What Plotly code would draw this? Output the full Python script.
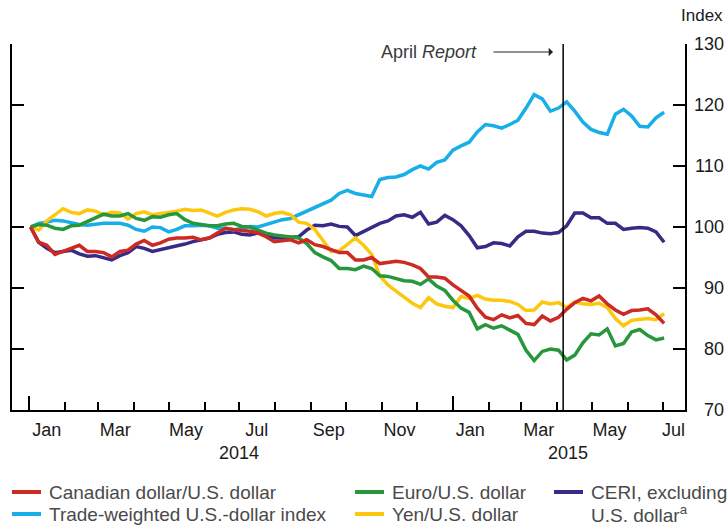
import pandas as pd
import plotly.graph_objects as go

# ---------------- data (weekly readings, index: Jan 2, 2014 = 100) ----------------
dates = pd.date_range("2014-01-02", periods=79, freq="7D").strftime("%Y-%m-%d").tolist()

cad_usd = [100, 97.5, 97, 95.5, 96, 96.5, 97, 96, 96, 95.8,
           95.1, 96, 96.2, 97.2, 97.8, 97, 97.4, 98, 98.2, 98.2,
           98.3, 97.9, 98.2, 99, 99.8, 99.6, 99.5, 99.3, 99, 98.4,
           97.6, 97.8, 97.9, 97.4, 97.9, 97.1, 96.8, 96.3, 95.8, 95.8,
           94.6, 94.6, 95, 94, 94.2, 94.4, 94.2, 93.8, 93.2, 91.8,
           91.8, 91.6, 90.5, 89.6, 88.7, 86.7, 85.2, 84.8, 85.6, 85.1,
           85.5, 84.2, 84, 85.4, 84.6, 85.2, 86.5, 87.6, 88.3, 87.9,
           88.7, 87.4, 86.4, 85.7, 86.3, 86.4, 86.6, 85.6, 84.2]

ceri_ex_usd = [100, 97.5, 96.5, 95.8, 96, 96.2, 95.6, 95.2, 95.3, 95,
               94.6, 95.3, 95.8, 96.8, 96.5, 96, 96.3, 96.6, 96.8, 97.2,
               97.6, 97.9, 98.2, 98.8, 99.1, 99.2, 98.8, 98.7, 99, 98.8,
               98.2, 98.2, 98.3, 98.4, 99.5, 100.3, 100.2, 100.5, 100.1, 100,
               98.6, 99.3, 99.9, 100.6, 101, 101.8, 102, 101.6, 102.4, 100.5,
               100.8, 101.9, 101.2, 100.2, 98.6, 96.6, 96.8, 97.4, 97.3, 96.9,
               98.4, 99.3, 99.3, 99, 98.9, 99.1, 100.2, 102.3, 102.3, 101.5,
               101.5, 100.6, 100.6, 99.6, 99.8, 99.9, 99.8, 99.2, 97.5]

tw_usd = [100, 100.6, 100.8, 101.1, 101, 100.7, 100.4, 100.3, 100.5, 100.6,
          100.6, 100.6, 100.3, 99.6, 99.3, 100, 99.9, 99.2, 99.6, 100.2,
          100.2, 100.3, 100.2, 99.8, 99.8, 99.5, 99.8, 100.1, 100, 100.4,
          100.9, 101.2, 101.4, 102, 102.6, 103.2, 103.8, 104.4, 105.5, 106,
          105.5, 105.2, 105, 107.8, 108.1, 108.2, 108.6, 109.4, 110, 109.5,
          110.6, 111, 112.6, 113.3, 113.9, 115.6, 116.8, 116.6, 116.2, 116.8,
          117.5, 119.5, 121.7, 121, 119, 119.5, 120.5, 119, 117.2, 116,
          115.5, 115.2, 118.5, 119.3, 118.2, 116.5, 116.4, 117.9, 118.8]

eur_usd = [100, 100.4, 100.3, 99.8, 99.6, 100.2, 100.3, 100.9, 101.4, 102.1,
           101.8, 101.8, 102.2, 101.4, 101.1, 101.7, 101.6, 102, 102.2, 101.2,
           100.6, 100.4, 100.2, 100.2, 100.5, 100.6, 100.1, 100, 99.5, 99,
           98.7, 98.5, 98.4, 98.2, 97.3, 95.8, 95.1, 94.5, 93.2, 93.2,
           93, 93.6, 93.2, 92, 91.9, 91.6, 91.2, 91.1, 90.6, 91.5,
           90.3, 89.6, 88, 86.7, 86, 83.3, 84, 83.4, 83.8, 83.1,
           82.4, 79.8, 78.1, 79.6, 80, 79.8, 78.2, 79, 81, 82.5,
           82.3, 83.3, 80.5, 80.9, 82.8, 83.2, 82.2, 81.5, 81.8]

jpy_usd = [100, 99.5, 101, 102, 103, 102.4, 102.2, 102.8, 102.6, 102,
           102.4, 102.3, 101.3, 102.2, 102.5, 102, 102.2, 102.3, 102.6, 102.9,
           102.7, 102.8, 102.3, 101.8, 102.4, 102.8, 103, 102.9, 102.5, 101.8,
           102.2, 102.4, 102, 100.8, 100.6, 99.6, 97.8, 96, 96.1, 97.2,
           98.2, 97, 95.5, 92, 90.5, 89.5, 88.5, 87.5, 86.8, 88.4,
           87.4, 87, 86.8, 88.6, 88.3, 88.8, 88.2, 88, 88, 87.8,
           87.3, 86.3, 86.4, 87.7, 87.4, 87.6, 86.8, 87.7, 87.4, 87.3,
           87.5, 86.8, 85, 83.8, 84.7, 84.8, 85, 84.8, 85.8]

month_label_dates = ["2014-01-16", "2014-03-16", "2014-05-16", "2014-07-16", "2014-09-16",
                     "2014-11-16", "2015-01-16", "2015-03-16", "2015-05-16", "2015-07-10"]
month_labels = ["Jan", "Mar", "May", "Jul", "Sep", "Nov", "Jan", "Mar", "May", "Jul"]
year_labels = ["2014", "2015"]
year_label_dates = ["2014-07-01", "2015-04-10"]
y_tick_values = [70, 80, 90, 100, 110, 120, 130]
april_report_date = "2015-04-06"

series = [
    ("Canadian dollar/U.S. dollar", cad_usd, "#cc2a22"),
    ("Trade-weighted U.S.-dollar index", tw_usd, "#18aee8"),
    ("Euro/U.S. dollar", eur_usd, "#27973c"),
    ("Yen/U.S. dollar", jpy_usd, "#fcc70d"),
    ("CERI, excluding U.S. dollar", ceri_ex_usd, "#3a2a86"),
]

# ---------------- layout geometry ----------------
WIDTH, HEIGHT = 728, 527
L, R, T, B = 12, 43, 44, 117
PW, PH = WIDTH - L - R, HEIGHT - T - B
FONT = "Liberation Sans, Arial, sans-serif"
TXT = "#1a1a1a"
LEG = "#4a4a4a"


def px(xp, yp):
    return (xp - L) / PW, (HEIGHT - B - yp) / PH


fig = go.Figure()
draw_order = [4, 1, 3, 2, 0]
for i in draw_order:
    name, vals, col = series[i]
    fig.add_trace(go.Scatter(x=dates, y=vals, mode="lines", name=name,
                             line=dict(color=col, width=3.5), showlegend=False,
                             hoverinfo="skip"))

xrange = ["2013-12-17", "2015-07-20"]

fig.update_layout(
    width=WIDTH, height=HEIGHT,
    margin=dict(l=L, r=R, t=T, b=B, autoexpand=False),
    paper_bgcolor="white", plot_bgcolor="white",
    font=dict(family=FONT, size=18, color=TXT),
    xaxis=dict(
        range=xrange, type="date", showgrid=False, zeroline=False, automargin=False,
        showline=True, linecolor="black", linewidth=2,
        tickmode="array", tickvals=["2014-01-01", "2015-01-01"],
        ticks="inside", ticklen=14, tickwidth=1.5, tickcolor="black",
        showticklabels=False,
        minor=dict(ticks="inside", ticklen=8, tickwidth=1.5, tickcolor="black",
                   dtick="M1", tick0="2014-01-01", showgrid=False),
    ),
    xaxis2=dict(
        range=xrange, type="date", overlaying="x", anchor="y", side="bottom",
        showgrid=False, zeroline=False, showline=False, ticks="", automargin=False,
        tickmode="array", tickvals=month_label_dates, ticktext=month_labels,
        tickfont=dict(family=FONT, size=18, color=TXT),
        ticklabelstandoff=7,
    ),
    yaxis=dict(
        range=[70, 130], side="right", tickmode="array", tickvals=y_tick_values,
        automargin=False, showticklabels=False,
        showgrid=False, zeroline=False,
        showline=True, linecolor="black", linewidth=2, mirror="ticks",
        ticks="inside", ticklen=12, tickwidth=2, tickcolor="black",
    ),
)
# dummy trace so xaxis2 renders
fig.add_trace(go.Scatter(x=[dates[0]], y=[None], xaxis="x2", showlegend=False,
                         hoverinfo="skip"))

# April Report vertical line
fig.add_shape(type="line", xref="x", yref="paper", x0=april_report_date, x1=april_report_date,
              y0=0, y1=1, line=dict(color="black", width=1.5))

ann = []
# right-aligned y tick labels
xr, _ = px(726, 0)
for v in y_tick_values:
    ann.append(dict(xref="paper", yref="y", x=xr, y=v, text=str(v), showarrow=False,
                    xanchor="right", yanchor="middle",
                    font=dict(family=FONT, size=18, color=TXT)))
# April Report label and arrow
xa, ya = px(479, 52)
ann.append(dict(xref="paper", yref="paper", x=xa, y=ya, xanchor="right", yanchor="middle",
                text="April <i>Report</i>", showarrow=False,
                font=dict(family=FONT, size=18, color="#3a3a3a")))
xh, yh = px(553, 52)
ann.append(dict(xref="paper", yref="paper", x=xh, y=yh, text="", showarrow=True,
                ax=-61, ay=0, arrowhead=1, arrowsize=1.2, arrowwidth=1.2,
                arrowcolor="#222222"))
# Index label
xi, yi = px(725, 15)
ann.append(dict(xref="paper", yref="paper", x=xi, y=yi, text="Index", showarrow=False,
                xanchor="right", yanchor="middle",
                font=dict(family=FONT, size=17, color=TXT)))
# year labels
for lab, d in zip(year_labels, year_label_dates):
    _, yy = px(0, 453)
    ann.append(dict(xref="x", yref="paper", x=d, y=yy, text=lab, showarrow=False,
                    xanchor="center", yanchor="middle",
                    font=dict(family=FONT, size=18, color=TXT)))

# manual legend
legend_items = [
    (0, 12, 492, "Canadian dollar/U.S. dollar"),
    (2, 355, 492, "Euro/U.S. dollar"),
    (4, 554, 492, "CERI, excluding"),
    (1, 12, 514, "Trade-weighted U.S.-dollar index"),
    (3, 355, 514, "Yen/U.S. dollar"),
]
for idx, x0, y0, text in legend_items:
    col = series[idx][2]
    ax0, ay0 = px(x0, y0)
    ax1, _ = px(x0 + 29, y0)
    fig.add_shape(type="line", xref="paper", yref="paper", x0=ax0, x1=ax1, y0=ay0, y1=ay0,
                  line=dict(color=col, width=4))
    tx, ty = px(x0 + 35, y0)
    ann.append(dict(xref="paper", yref="paper", x=tx, y=ty, text=text, showarrow=False,
                    xanchor="left", yanchor="middle",
                    font=dict(family=FONT, size=19, color=LEG)))
tx, ty = px(589, 514)
ann.append(dict(xref="paper", yref="paper", x=tx, y=ty, text="U.S. dollar<sup>a</sup>",
                showarrow=False, xanchor="left", yanchor="middle",
                font=dict(family=FONT, size=19, color=LEG)))

fig.update_layout(annotations=ann)
fig.write_html("out.html", config={"displayModeBar": False},
               post_script="document.body.style.margin='0';document.body.style.overflow='hidden';")
